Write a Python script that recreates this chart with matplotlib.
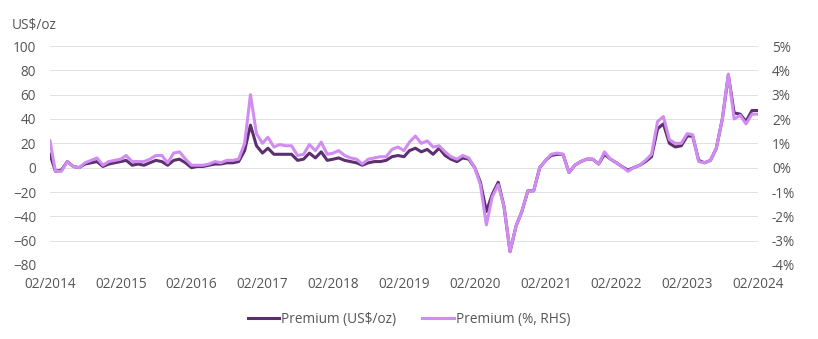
import matplotlib.pyplot as plt
import pandas as pd

plt.rcParams["font.family"] = ["Open Sans", "DejaVu Sans"]

# monthly, 02/2014 .. 02/2024
premium_usd = [
    11, -3, -2, 5, 1, 0, 3, 4, 5, 1, 3, 4,
    5, 6, 2, 3, 2, 4, 6, 5, 2, 6, 7, 4,
    0, 1, 1, 2, 3, 3, 4, 4, 5, 14, 35, 18,
    12, 16, 11, 11, 11, 11, 6, 7, 12, 8, 13, 6,
    7, 8, 6, 5, 4, 2, 4, 5, 5, 6, 9, 10,
    9, 14, 16, 13, 15, 11, 16, 10, 7, 5, 8, 7,
    0, -12, -36, -22, -12, -32, -69, -48, -36, -19, -19, 0,
    6, 10, 11, 11, -4, 2, 5, 7, 7, 3, 11, 7,
    4, 1, -2, 0, 2, 5, 9, 32, 36, 20, 17, 18,
    26, 26, 6, 4, 6, 16, 40, 76, 45, 44, 38, 47,
    47,
]
premium_pct = [
    1.10, -0.15, -0.15, 0.25, 0.05, 0.00, 0.20, 0.30, 0.40, 0.10, 0.25, 0.30,
    0.35, 0.50, 0.25, 0.25, 0.25, 0.35, 0.50, 0.50, 0.20, 0.60, 0.65, 0.35,
    0.10, 0.10, 0.10, 0.15, 0.25, 0.20, 0.30, 0.30, 0.35, 1.00, 3.00, 1.40,
    1.00, 1.25, 0.85, 0.95, 0.90, 0.90, 0.50, 0.55, 0.95, 0.70, 1.05, 0.55,
    0.60, 0.70, 0.50, 0.40, 0.35, 0.15, 0.35, 0.40, 0.45, 0.45, 0.75, 0.85,
    0.70, 1.05, 1.30, 1.00, 1.10, 0.85, 0.90, 0.65, 0.45, 0.35, 0.50, 0.40,
    0.00, -0.70, -2.35, -1.20, -0.70, -1.60, -3.45, -2.40, -1.80, -0.95, -0.95, 0.00,
    0.30, 0.55, 0.60, 0.55, -0.20, 0.10, 0.25, 0.35, 0.35, 0.15, 0.65, 0.35,
    0.20, 0.05, -0.15, 0.00, 0.10, 0.30, 0.55, 1.90, 2.10, 1.15, 1.00, 1.00,
    1.40, 1.35, 0.25, 0.20, 0.30, 0.80, 2.00, 3.85, 2.00, 2.15, 1.80, 2.20,
    2.20,
]
dates = pd.date_range("2014-02-01", periods=len(premium_usd), freq="MS")
tick_dates = pd.date_range("2014-02-01", "2024-02-01", freq="12MS")
tick_labels = [d.strftime("%m/%Y") for d in tick_dates]
usd_ticks = list(range(-80, 101, 20))
pct_ticks = list(range(-4, 6))

dark = "#5c2f6e"
light = "#d18cf2"
grey = "#555555"
fs = 9.8

fig = plt.figure(figsize=(8.18, 3.39), dpi=100)
ax = fig.add_axes([50 / 818, 1 - 265 / 339, 708 / 818, 219 / 339])
ax2 = ax.twinx()

l1, = ax.plot(dates, premium_usd, color=dark, lw=2.2, label="Premium (US$/oz)")
l2, = ax2.plot(dates, premium_pct, color=light, lw=2.2, label="Premium (%, RHS)")

ax.set_ylim(-80, 100)
ax2.set_ylim(-4, 5)
ax.set_yticks(usd_ticks)
ax2.set_yticks(pct_ticks)
ax2.set_yticklabels([f"{v}%" for v in pct_ticks])
ax.set_xlim(dates[0], dates[-1])
ax.set_xticks(tick_dates)
ax.set_xticklabels(tick_labels)

for a in (ax, ax2):
    for s in a.spines.values():
        s.set_visible(False)
    a.tick_params(length=0, labelsize=fs, labelcolor=grey)
ax.tick_params(axis="y", pad=10)
ax2.tick_params(axis="y", pad=10)
ax.tick_params(axis="x", pad=9)
ax.grid(axis="y", color="#dcdcdc", lw=0.6)
ax.set_axisbelow(True)

fig.text(12 / 818, 1 - 26 / 339, "US$/oz", fontsize=fs, color=grey, va="center")
fig.legend(handles=[l1, l2], loc="center", bbox_to_anchor=(0.5, 1 - 319 / 339),
           ncol=2, frameon=False, fontsize=fs, labelcolor=grey,
           handlelength=2.3, handletextpad=0.15, columnspacing=1.9)

fig.savefig("out.png", dpi=100)
